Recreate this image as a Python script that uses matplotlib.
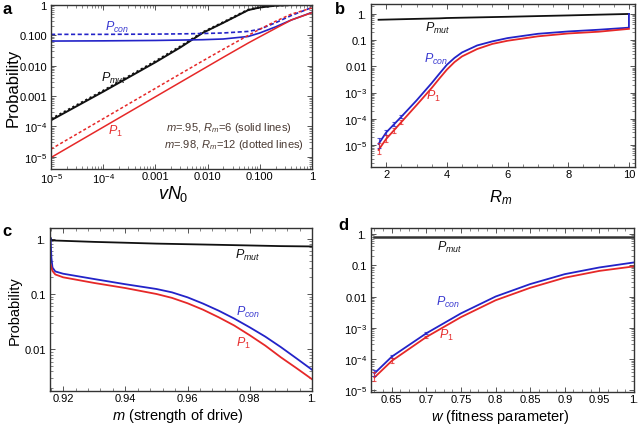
import numpy as np
import matplotlib
matplotlib.use("Agg")
import matplotlib.pyplot as plt
from matplotlib.ticker import FixedLocator, NullFormatter, LogLocator

plt.rcParams['font.family'] = ['Liberation Sans', 'DejaVu Sans']
plt.rcParams['mathtext.fontset'] = 'custom'
plt.rcParams['mathtext.rm'] = 'Liberation Sans'
plt.rcParams['mathtext.it'] = 'Liberation Sans:italic'
plt.rcParams['mathtext.bf'] = 'Liberation Sans:bold'

BLUE = '#2323c8'
RED = '#e62828'
BLACK = '#111111'
TXT_BLUE = '#3a3ad0'
TXT_RED = '#e63030'
NOTE = '#4a3a33'

# ---------------- Panel a data ----------------
vN0 = [1e-5, 1e-4, 1e-3, 3e-3, 8e-3, 2e-2, 6e-2, 1e-1, 2e-1, 4e-1, 1.0]
a_mut = [1.6e-4, 1.4e-3, 1.3e-2, 4.0e-2, 1.2e-1, 2.6e-1, 6.8e-1, 8.3e-1, 9.5e-1, 1.0, 1.0]
a_mut_dot = [1.75e-4, 1.5e-3, 1.4e-2, 4.3e-2, 1.25e-1, 2.7e-1, 7.0e-1, 8.4e-1, 9.6e-1, 1.0, 1.0]
a_con = [0.065, 0.066, 0.068, 0.070, 0.072, 0.076, 0.092, 0.12, 0.19, 0.32, 0.57]
a_con_dot = [0.108, 0.108, 0.110, 0.112, 0.115, 0.12, 0.135, 0.16, 0.26, 0.45, 0.83]
a_p1 = [9.5e-6, 9.5e-5, 9.5e-4, 2.85e-3, 7.6e-3, 1.9e-2, 5.6e-2, 9.0e-2, 0.17, 0.32, 0.56]
a_p1_dot = [1.8e-5, 1.8e-4, 1.8e-3, 5.4e-3, 1.43e-2, 3.5e-2, 0.10, 0.16, 0.29, 0.50, 0.80]

# ---------------- Panel b data ----------------
Rm = [1.75, 2.0, 2.5, 3.0, 3.5, 3.75, 4.0, 4.25, 4.5, 5.0, 5.5, 6.0, 7.0, 8.0, 9.0, 10.0, 10.0]
b_mut = [0.60, 0.61, 0.63, 0.65, 0.67, 0.68, 0.70, 0.71, 0.72, 0.74, 0.76, 0.78, 0.83, 0.88, 0.94, 1.0, 1.0]
b_con = [1.1e-5, 3.0e-5, 1.2e-4, 5.0e-4, 2.3e-3, 5.2e-3, 1.15e-2, 2.1e-2, 3.4e-2, 6.3e-2, 9.0e-2, 0.12, 0.175, 0.215, 0.25, 0.30, 1.0]
b_p1 = [6.5e-6, 1.7e-5, 7.5e-5, 3.3e-4, 1.5e-3, 3.4e-3, 7.5e-3, 1.45e-2, 2.4e-2, 4.6e-2, 7.2e-2, 0.095, 0.14, 0.18, 0.21, 0.27]
Rm_err = [1.75, 2.0, 2.25, 2.5]
b_con_err = [1.1e-5, 3.0e-5, 6.0e-5, 1.2e-4]
b_con_sd = [0.35, 0.2, 0.15, 0.1]
b_p1_err = [6.5e-6, 1.7e-5, 3.6e-5, 7.5e-5]
b_p1_sd = [0.45, 0.25, 0.18, 0.12]

# ---------------- Panel c data ----------------
m_c = [0.9160, 0.91625, 0.9166, 0.9175, 0.920, 0.930, 0.940, 0.950, 0.955, 0.960, 0.965, 0.970, 0.975, 0.980, 0.985, 0.990, 0.995, 1.000]
c_mut = [1.02, 0.94, 0.93, 0.92, 0.91, 0.87, 0.84, 0.81, 0.80, 0.79, 0.78, 0.77, 0.76, 0.75, 0.74, 0.73, 0.725, 0.72]
c_con = [1.0, 0.45, 0.30, 0.255, 0.232, 0.186, 0.150, 0.123, 0.107, 0.087, 0.067, 0.050, 0.036, 0.025, 0.017, 0.011, 0.0069, 0.0043]
c_p1 = [0.34, 0.30, 0.26, 0.225, 0.200, 0.158, 0.128, 0.100, 0.085, 0.068, 0.052, 0.038, 0.027, 0.018, 0.0117, 0.0072, 0.0046, 0.0029]

# ---------------- Panel d data ----------------
w_d = [0.625, 0.65, 0.70, 0.75, 0.80, 0.85, 0.90, 0.95, 1.00]
d_mut = [0.82, 0.82, 0.82, 0.82, 0.82, 0.82, 0.82, 0.82, 0.82]
d_con = [3.5e-5, 1.2e-4, 6.7e-4, 2.9e-3, 1.0e-2, 2.5e-2, 5.2e-2, 8.5e-2, 0.123]
d_p1 = [2.6e-5, 8.8e-5, 5.1e-4, 2.2e-3, 7.6e-3, 1.9e-2, 4.0e-2, 6.6e-2, 0.092]
w_err = [0.625, 0.65, 0.70]
d_con_sd = [0.2, 0.12, 0.06]
d_p1_sd = [0.3, 0.15, 0.08]

W, H = 638, 427
fig = plt.figure(figsize=(W / 100, H / 100), dpi=100)


def add_ax(l, t, r, b):
    return fig.add_axes([l / W, 1 - b / H, (r - l) / W, (b - t) / H])


axa = add_ax(51, 6, 312, 170)
axb = add_ax(371, 5, 635, 168)
axc = add_ax(50, 229, 312, 392)
axd = add_ax(371, 229, 634, 393)

for ax in (axa, axb, axc, axd):
    for s in ax.spines.values():
        s.set_color('#333333')
        s.set_linewidth(1.0)
    ax.tick_params(which='both', direction='in', top=True, right=True,
                   labelsize=8, color='#555555', pad=3)
    ax.tick_params(axis='x', which='both', pad=1.5)
    ax.tick_params(which='major', length=3.5, width=0.7)
    ax.tick_params(which='minor', length=2, width=0.5)


def sup(e):
    return r'$10^{%d}$' % e


def logerr(ax, x, y, sd, color):
    y = np.array(y)
    sd = np.array(sd)
    lo = y - y / (10 ** sd)
    hi = y * (10 ** sd) - y
    ax.errorbar(x, y, yerr=[lo * 0.5, hi * 0.5], fmt='none', ecolor=color,
                elinewidth=0.8, capsize=1.5, capthick=0.8, alpha=0.75)

# ---- Panel a ----
ax = axa
ax.set_xscale('log'); ax.set_yscale('log')
ax.plot(vN0, a_mut, color=BLACK, lw=1.4)
ax.plot(vN0, a_mut_dot, color=BLACK, lw=1.6, ls=(0, (1, 1.2)))
ax.plot(vN0, a_con, color=BLUE, lw=1.2)
ax.plot(vN0, a_con_dot, color=BLUE, lw=1.2, ls=(0, (2.5, 1.5)))
ax.plot(vN0, a_p1, color=RED, lw=1.1)
ax.plot(vN0, a_p1_dot, color=RED, lw=1.1, ls=(0, (2.0, 1.5)))
ax.set_xlim(1e-5, 1)
ax.set_ylim(10 ** -5.4, 1)
ticks = [1e-5, 1e-4, 1e-3, 1e-2, 1e-1, 1]
lab = [sup(-5), sup(-4), '0.001', '0.010', '0.100', '1']
ax.xaxis.set_major_locator(FixedLocator(ticks)); ax.set_xticklabels(lab)
ax.yaxis.set_major_locator(FixedLocator(ticks)); ax.set_yticklabels(lab)
ax.xaxis.set_minor_locator(LogLocator(base=10, subs=np.arange(2, 10), numticks=20))
ax.yaxis.set_minor_locator(LogLocator(base=10, subs=np.arange(2, 10), numticks=20))
ax.xaxis.set_minor_formatter(NullFormatter()); ax.yaxis.set_minor_formatter(NullFormatter())
ax.set_xlabel(r'$vN_0$', fontsize=13)
ax.xaxis.set_label_coords(0.47, -0.085)
ax.set_ylabel('Probability', fontsize=12)
ax.yaxis.set_label_coords(-0.118, 0.5)
ax.text(0.253, 0.872, r'$P_{con}$', transform=ax.transAxes, color=TXT_BLUE, fontsize=9, ha='center', va='center')
ax.text(0.238, 0.56, r'$P_{mut}$', transform=ax.transAxes, color=BLACK, fontsize=9, ha='center', va='center')
ax.text(0.245, 0.238, r'$P_1$', transform=ax.transAxes, color=TXT_RED, fontsize=9, ha='center', va='center')
ax.text(0.68, 0.256, r'$m$=.95, $R_m$=6 (solid lines)', transform=ax.transAxes, color=NOTE, fontsize=8, ha='center', va='center')
ax.text(0.70, 0.152, r'$m$=.98, $R_m$=12 (dotted lines)', transform=ax.transAxes, color=NOTE, fontsize=8, ha='center', va='center')

# ---- Panel b ----
ax = axb
ax.set_yscale('log')
ax.plot(Rm[:-1], b_mut[:-1], color=BLACK, lw=1.3)
ax.plot(Rm, b_con, color=BLUE, lw=1.3)
ax.plot(Rm[:-1], b_p1, color=RED, lw=1.3)
logerr(ax, Rm_err, b_con_err, b_con_sd, BLUE)
logerr(ax, Rm_err, b_p1_err, b_p1_sd, RED)
ax.set_xlim(1.5, 10.2)
ax.set_ylim(10 ** -5.84, 10 ** 0.38)
ax.set_xticks([2, 4, 6, 8, 10]); ax.set_xticklabels(['2', '4', '6', '8', '10'])
ax.set_xticks(np.arange(1.5, 10.2, 0.5), minor=True)
yt = [1e-5, 1e-4, 1e-3, 1e-2, 1e-1, 1]
ax.yaxis.set_major_locator(FixedLocator(yt))
ax.set_yticklabels([sup(-5), sup(-4), sup(-3), '0.01', '0.1', '1.'])
ax.yaxis.set_minor_locator(LogLocator(base=10, subs=np.arange(2, 10), numticks=20))
ax.yaxis.set_minor_formatter(NullFormatter())
ax.set_xlabel(r'$R_m$', fontsize=12)
ax.xaxis.set_label_coords(0.49, -0.125)
ax.text(0.254, 0.859, r'$P_{mut}$', transform=ax.transAxes, color=BLACK, fontsize=9, ha='center', va='center')
ax.text(0.245, 0.663, r'$P_{con}$', transform=ax.transAxes, color=TXT_BLUE, fontsize=9, ha='center', va='center')
ax.text(0.236, 0.436, r'$P_1$', transform=ax.transAxes, color=TXT_RED, fontsize=9, ha='center', va='center')

# ---- Panel c ----
ax = axc
ax.set_yscale('log')
ax.plot(m_c, c_mut, color=BLACK, lw=1.3)
ax.plot(m_c, c_con, color=BLUE, lw=1.3)
ax.plot(m_c, c_p1, color=RED, lw=1.3)
ax.set_xlim(0.9158, 1.0)
ax.set_ylim(10 ** -2.75, 10 ** 0.19)
ax.set_xticks([0.92, 0.94, 0.96, 0.98, 1.0])
ax.set_xticklabels(['0.92', '0.94', '0.96', '0.98', '1.'])
ax.set_xticks(np.arange(0.916, 1.0001, 0.004), minor=True)
ax.yaxis.set_major_locator(FixedLocator([1e-2, 1e-1, 1]))
ax.set_yticklabels(['0.01', '0.1', '1.'])
ax.yaxis.set_minor_locator(LogLocator(base=10, subs=np.arange(2, 10), numticks=20))
ax.yaxis.set_minor_formatter(NullFormatter())
ax.set_xlabel(r'$m$ (strength of drive)', fontsize=10.5)
ax.xaxis.set_label_coords(0.49, -0.09)
ax.set_ylabel('Probability', fontsize=10.5)
ax.yaxis.set_label_coords(-0.108, 0.5)
ax.text(0.756, 0.84, r'$P_{mut}$', transform=ax.transAxes, color=BLACK, fontsize=9, ha='center', va='center')
ax.text(0.756, 0.49, r'$P_{con}$', transform=ax.transAxes, color=TXT_BLUE, fontsize=9, ha='center', va='center')
ax.text(0.737, 0.30, r'$P_1$', transform=ax.transAxes, color=TXT_RED, fontsize=9, ha='center', va='center')

# ---- Panel d ----
ax = axd
ax.set_yscale('log')
ax.plot(w_d, d_mut, color='#333333', lw=1.8)
ax.plot(w_d, d_con, color=BLUE, lw=1.3)
ax.plot(w_d, d_p1, color=RED, lw=1.3)
logerr(ax, w_err, d_con[:3], d_con_sd, BLUE)
logerr(ax, w_err, d_p1[:3], d_p1_sd, RED)
ax.set_xlim(0.62, 1.0)
ax.set_ylim(10 ** -5.05, 10 ** 0.19)
ax.set_xticks([0.65, 0.7, 0.75, 0.8, 0.85, 0.9, 0.95, 1.0])
ax.set_xticklabels(['0.65', '0.7', '0.75', '0.8', '0.85', '0.9', '0.95', '1.'])
ax.set_xticks(np.arange(0.625, 1.0001, 0.0125), minor=True)
ax.yaxis.set_major_locator(FixedLocator(yt))
ax.set_yticklabels([sup(-5), sup(-4), sup(-3), '0.01', '0.1', '1.'])
ax.yaxis.set_minor_locator(LogLocator(base=10, subs=np.arange(2, 10), numticks=20))
ax.yaxis.set_minor_formatter(NullFormatter())
ax.set_xlabel(r'$w$ (fitness parameter)', fontsize=10.5)
ax.xaxis.set_label_coords(0.49, -0.09)
ax.text(0.30, 0.89, r'$P_{mut}$', transform=ax.transAxes, color=BLACK, fontsize=9, ha='center', va='center')
ax.text(0.293, 0.555, r'$P_{con}$', transform=ax.transAxes, color=TXT_BLUE, fontsize=9, ha='center', va='center')
ax.text(0.285, 0.348, r'$P_1$', transform=ax.transAxes, color=TXT_RED, fontsize=9, ha='center', va='center')

# panel letters
for x, y, s in [(7, 9, 'a'), (340, 9, 'b'), (7, 232, 'c'), (343, 226, 'd')]:
    fig.text(x / W, 1 - y / H, s, fontsize=12, fontweight='bold', ha='center', va='center')

fig.savefig('out.png', dpi=100)
